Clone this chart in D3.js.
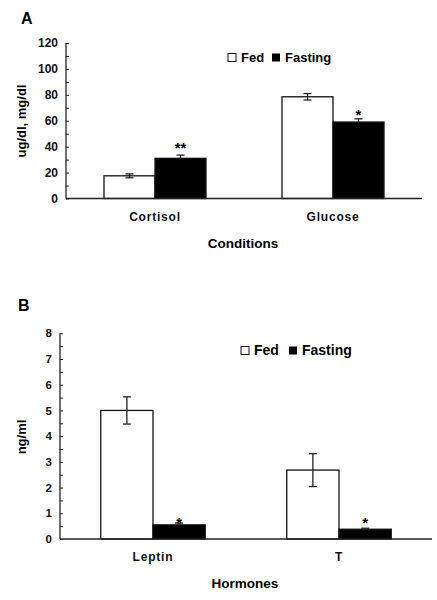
<!DOCTYPE html>
<html><head><meta charset="utf-8">
<script src="https://cdn.jsdelivr.net/npm/d3@7"></script>
<style>
body{margin:0;background:#fff;}
text{font-family:"Liberation Sans",Arial,sans-serif;}
</style></head>
<body><svg id="c" width="437" height="600"></svg>
<script>
const series = ["Fed", "Fasting"];
const catsA = ["Cortisol", "Glucose"];
const fedA = [17.5, 78.5];
const fedErrA = [1.5, 2.5];
const fastA = [31, 59];
const fastErrA = [2.5, 2.5];
const sigA = ["**", "*"];
const ticksA = [0, 20, 40, 60, 80, 100, 120];

const catsB = ["Leptin", "T"];
const fedB = [5.0, 2.68];
const fedErrB = [0.53, 0.64];
const fastB = [0.55, 0.38];
const fastErrB = [0.07, 0.04];
const sigB = ["*", "*"];
const ticksB = [0, 1, 2, 3, 4, 5, 6, 7, 8];

const svg = d3.select("#c");

function panel(o) {
  const g = svg.append("g");
  const x = d3.scaleBand().domain(o.cats).range([o.x0, o.x1]).paddingInner(0).paddingOuter(0);
  const y = d3.scaleLinear().domain([0, o.ymax]).range([o.y0, o.y1]);
  const inner = d3.scaleBand().domain(series).range([0, x.bandwidth()]).paddingOuter(o.innerPad).paddingInner(0);
  const vals = [o.fed, o.fast], errs = [o.fedErr, o.fastErr];

  series.forEach((s, si) => {
    g.selectAll(null).data(o.cats).enter().append("rect")
      .attr("x", d => x(d) + inner(s))
      .attr("y", (d, i) => y(vals[si][i]))
      .attr("width", inner.bandwidth())
      .attr("height", (d, i) => o.y0 - y(vals[si][i]))
      .attr("fill", si === 0 ? "#fff" : "#000")
      .attr("stroke", "#111").attr("stroke-width", 1.3);
  });
  series.forEach((s, si) => {
    o.cats.forEach((c, i) => {
      const cx = x(c) + inner(s) + inner.bandwidth() / 2;
      const v = vals[si][i], e = errs[si][i];
      const hi = y(v + e), lo = y(v - e);
      const col = "#222";
      g.append("line").attr("x1", cx).attr("x2", cx).attr("y1", hi).attr("y2", si === 0 ? lo : y(v)).attr("stroke", col).attr("stroke-width", 1.3);
      g.append("line").attr("x1", cx - 4).attr("x2", cx + 4).attr("y1", hi).attr("y2", hi).attr("stroke", col).attr("stroke-width", 1.3);
      if (si === 0) g.append("line").attr("x1", cx - 4).attr("x2", cx + 4).attr("y1", lo).attr("y2", lo).attr("stroke", col).attr("stroke-width", 1.3);
    });
  });
  o.cats.forEach((c, i) => {
    const cx = x(c) + inner("Fasting") + inner.bandwidth() / 2;
    g.append("text").attr("x", cx).attr("y", y(o.fast[i] + o.fastErr[i]) + o.sigDy[i])
      .attr("text-anchor", "middle").attr("font-size", 15).attr("font-weight", "bold").text(o.sig[i]);
  });

  const minor = [];
  for (let i = 0; i < o.ticks.length - 1; i++) minor.push((o.ticks[i] + o.ticks[i + 1]) / 2);
  const axMinor = g.append("g").attr("transform", `translate(${o.x0},0)`)
    .call(d3.axisLeft(y).tickValues(minor).tickSize(-3).tickFormat(""));
  const ax = g.append("g").attr("transform", `translate(${o.x0},0)`)
    .call(d3.axisLeft(y).tickValues(o.ticks).tickSize(-3).tickPadding(8).tickFormat(d3.format("d")));
  [ax, axMinor].forEach(a => {
    a.selectAll("path.domain").remove();
    a.selectAll("line").attr("stroke", "#222").attr("stroke-width", 1);
  });
  ax.selectAll("text").attr("font-size", o.tickFs).attr("font-weight", "bold").attr("fill", "#111")
    .style("font-family", '"Liberation Sans",Arial,sans-serif');
  g.append("line").attr("x1", o.x0).attr("x2", o.x0).attr("y1", o.y1).attr("y2", o.y0).attr("stroke", "#222").attr("stroke-width", 1.3);
  g.append("line").attr("x1", o.x0).attr("x2", o.x1).attr("y1", o.y0).attr("y2", o.y0).attr("stroke", "#222").attr("stroke-width", 1.3);

  o.cats.forEach(c => {
    g.append("text").attr("x", x(c) + x.bandwidth() / 2).attr("y", o.catY).attr("text-anchor", "middle")
      .attr("font-size", 12).attr("font-weight", "bold").attr("letter-spacing", 0.8).attr("fill", "#111").text(c);
  });
  g.append("text").attr("x", o.xTitleX).attr("y", o.xTitleY).attr("text-anchor", "middle")
    .attr("font-size", 13.5).attr("font-weight", "bold").text(o.xTitle);
  g.append("text").attr("transform", `translate(${o.yTitleX},${o.yTitleY}) rotate(-90)`).attr("text-anchor", "middle")
    .attr("font-size", 13).attr("font-weight", "bold").text(o.yTitle);
  g.append("text").attr("x", o.letterX).attr("y", o.letterY).attr("font-size", 16).attr("font-weight", "bold").text(o.letter);

  const lg = g.append("g").attr("transform", `translate(${o.legX},${o.legY})`);
  const sq = o.legSq;
  lg.append("rect").attr("x", 0).attr("y", -sq).attr("width", sq).attr("height", sq).attr("fill", "#fff").attr("stroke", "#111").attr("stroke-width", 1);
  lg.append("text").attr("x", sq + 5).attr("y", 0).attr("font-size", o.legFs).attr("font-weight", "bold").text(series[0]);
  lg.append("rect").attr("x", o.legGap).attr("y", -sq).attr("width", sq).attr("height", sq).attr("fill", "#000");
  lg.append("text").attr("x", o.legGap + sq + 5).attr("y", 0).attr("font-size", o.legFs).attr("font-weight", "bold").text(series[1]);
}

panel({cats: catsA, fed: fedA, fedErr: fedErrA, fast: fastA, fastErr: fastErrA, sig: sigA, ticks: ticksA,
  ymax: 120, x0: 66, x1: 422, y0: 198.5, y1: 43, tickFs: 12, sigDy: [-2.5, 1.5], innerPad: 0.745,
  catY: 221, xTitle: "Conditions", xTitleX: 243, xTitleY: 248,
  yTitle: "ug/dl, mg/dl", yTitleX: 26, yTitleY: 121, letter: "A", letterX: 21, letterY: 24,
  legX: 228, legY: 61.5, legSq: 8, legFs: 13, legGap: 44});

panel({cats: catsB, fed: fedB, fedErr: fedErrB, fast: fastB, fastErr: fastErrB, sig: sigB, ticks: ticksB,
  ymax: 8, x0: 60, x1: 432, y0: 539, y1: 333.3, tickFs: 11.5, sigDy: [5, 0], innerPad: 0.78,
  catY: 561, xTitle: "Hormones", xTitleX: 245, xTitleY: 588,
  yTitle: "ng/ml", yTitleX: 26, yTitleY: 437, letter: "B", letterX: 18, letterY: 311,
  legX: 241, legY: 354.5, legSq: 8, legFs: 14, legGap: 48});
</script></body></html>
